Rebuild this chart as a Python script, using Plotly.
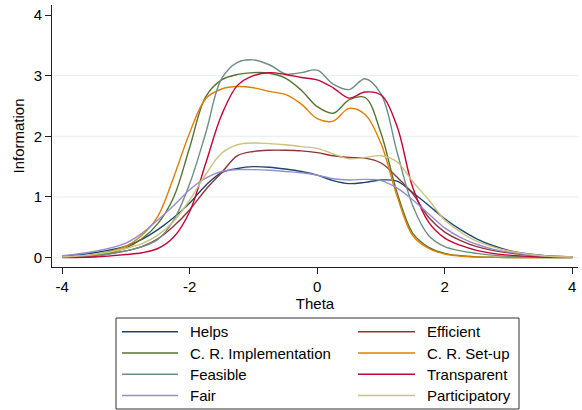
import plotly.graph_objects as go

theta = [-4, -3.5, -3, -2.75, -2.5, -2.25, -2, -1.75, -1.5, -1.25, -1, -0.75, -0.5, -0.25,
         0, 0.25, 0.5, 0.75, 1, 1.25, 1.5, 1.75, 2, 2.25, 2.5, 2.75, 3, 3.5, 4]

helps = [0.025, 0.08, 0.19, 0.30, 0.46, 0.66, 0.90, 1.19, 1.40, 1.47, 1.50, 1.49, 1.46, 1.42,
         1.36, 1.27, 1.22, 1.24, 1.28, 1.26, 1.07, 0.86, 0.64, 0.46, 0.31, 0.20, 0.12, 0.04, 0.012]
efficient = [0.008, 0.03, 0.11, 0.18, 0.31, 0.52, 0.79, 1.12, 1.40, 1.68, 1.75, 1.77, 1.77, 1.76,
             1.73, 1.68, 1.65, 1.64, 1.56, 1.33, 1.05, 0.66, 0.42, 0.28, 0.18, 0.12, 0.08, 0.025, 0.008]
cr_impl = [0.005, 0.03, 0.16, 0.31, 0.56, 1.0, 1.82, 2.65, 2.93, 3.02, 3.05, 3.04, 2.96, 2.76,
           2.49, 2.38, 2.60, 2.64, 2.05, 1.08, 0.40, 0.17, 0.07, 0.03, 0.012, 0.005, 0.002, 0.0005, 0.0001]
cr_setup = [0.01, 0.05, 0.19, 0.37, 0.68, 1.33, 2.06, 2.62, 2.78, 2.82, 2.80, 2.74, 2.69, 2.53,
            2.29, 2.25, 2.46, 2.36, 1.88, 1.02, 0.36, 0.15, 0.06, 0.025, 0.01, 0.004, 0.002, 0.0005, 0.0001]
feasible = [0.004, 0.025, 0.11, 0.18, 0.30, 0.62, 1.22, 2.05, 2.95, 3.22, 3.26, 3.18, 3.03, 3.05,
            3.09, 2.86, 2.77, 2.95, 2.70, 1.75, 0.85, 0.36, 0.18, 0.11, 0.07, 0.04, 0.02, 0.006, 0.002]
transparent = [0.002, 0.01, 0.05, 0.08, 0.15, 0.34, 0.76, 1.55, 2.35, 2.84, 3.00, 3.05, 3.02, 2.97,
               2.93, 2.80, 2.63, 2.73, 2.68, 2.17, 1.15, 0.58, 0.32, 0.20, 0.12, 0.07, 0.04, 0.01, 0.003]
fair = [0.03, 0.10, 0.24, 0.40, 0.62, 0.86, 1.12, 1.31, 1.42, 1.45, 1.45, 1.44, 1.42, 1.40,
        1.36, 1.30, 1.28, 1.29, 1.27, 1.15, 0.95, 0.72, 0.49, 0.33, 0.22, 0.14, 0.09, 0.03, 0.008]
participatory = [0.01, 0.05, 0.15, 0.23, 0.37, 0.60, 0.95, 1.37, 1.72, 1.86, 1.89, 1.88, 1.86, 1.83,
                 1.80, 1.71, 1.63, 1.65, 1.68, 1.58, 1.25, 0.95, 0.62, 0.42, 0.27, 0.18, 0.11, 0.035, 0.01]

names = ["Helps", "Efficient", "C. R. Implementation", "C. R. Set-up",
         "Feasible", "Transparent", "Fair", "Participatory"]
series = [helps, efficient, cr_impl, cr_setup, feasible, transparent, fair, participatory]
colors = ["#1a476f", "#90353b", "#55752f", "#e37e00", "#6e8e84", "#c10534", "#938dd2", "#cac27e"]

x_ticks = [-4, -2, 0, 2, 4]
y_ticks = [0, 1, 2, 3, 4]
grid_vals = [0, 1, 2, 3]

FONT = "Liberation Sans, Arial, Helvetica, sans-serif"

# layout geometry (pixels)
W, H = 582, 410
ML, MR, MT, MB = 52, 4, 5, 143
PW, PH = W - ML - MR, H - MT - MB


def px2x(px):
    return (px - ML) / PW


def py2y(py):
    return (H - MB - py) / PH


fig = go.Figure()
for name, ys, c in zip(names, series, colors):
    fig.add_trace(go.Scatter(x=theta, y=ys, mode="lines", name=name,
                             line=dict(color=c, width=1.4, shape="spline", smoothing=1.0),
                             showlegend=False))

shapes = []
for v in grid_vals:
    shapes.append(dict(type="line", xref="paper", yref="y", x0=0, x1=1, y0=v, y1=v,
                       line=dict(color="#e6eef0", width=1), layer="below"))

# manual legend (Stata style: two columns, row-major)
box_l, box_r, box_t, box_b = 116, 519, 318, 409
shapes.append(dict(type="rect", xref="paper", yref="paper",
                   x0=px2x(box_l), x1=px2x(box_r), y0=py2y(box_b), y1=py2y(box_t),
                   line=dict(color="#333333", width=1), fillcolor="white"))
row_y = [331.7, 353.0, 374.3, 395.5]
col_line = [(122, 178), (358, 415)]
col_text = [188, 425]
annotations = []
for i, (name, c) in enumerate(zip(names, colors)):
    r, col = divmod(i, 2)
    yv = py2y(row_y[r])
    shapes.append(dict(type="line", xref="paper", yref="paper",
                       x0=px2x(col_line[col][0]), x1=px2x(col_line[col][1]), y0=yv, y1=yv,
                       line=dict(color=c, width=1.6)))
    annotations.append(dict(text=name, xref="paper", yref="paper", x=px2x(col_text[col]), y=yv,
                            xanchor="left", yanchor="middle", showarrow=False,
                            font=dict(family=FONT, size=15, color="black")))

fig.update_layout(
    width=W, height=H,
    margin=dict(l=ML, r=MR, t=MT, b=MB, pad=0),
    paper_bgcolor="white", plot_bgcolor="white",
    font=dict(family=FONT, size=15, color="black"),
    shapes=shapes, annotations=annotations,
    xaxis=dict(range=[-4.16, 4.09], tickvals=x_ticks, ticktext=[str(v) for v in x_ticks],
               ticks="outside", ticklen=6, tickwidth=1, tickcolor="#222222",
               showline=True, linecolor="#222222", linewidth=1, showgrid=False, zeroline=False,
               tickfont=dict(size=15), title=dict(text="Theta", font=dict(size=15), standoff=0),
               automargin=False),
    yaxis=dict(range=[-0.155, 4.165], tickvals=y_ticks, ticktext=[str(v) for v in y_ticks],
               ticks="outside", ticklen=6, tickwidth=1, tickcolor="#222222",
               showline=True, linecolor="#222222", linewidth=1, showgrid=False, zeroline=False,
               tickfont=dict(size=15), title=dict(text="Information", font=dict(size=15), standoff=5),
               automargin=False),
)

fig.write_html("out.html")
